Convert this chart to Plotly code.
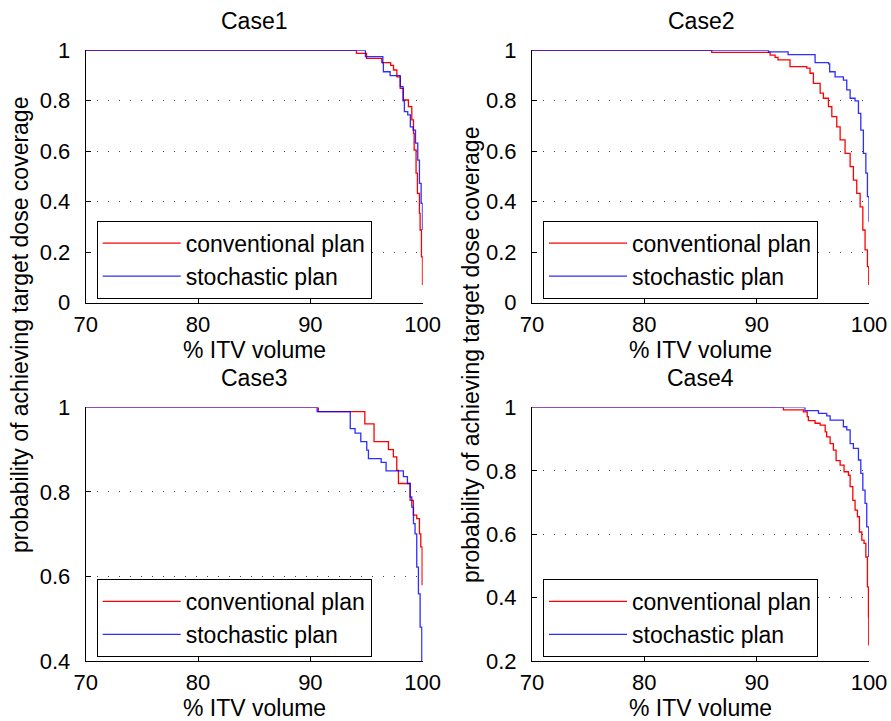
import plotly.graph_objects as go

# ---------------- data ----------------
case1_conv_x = [70, 94.1, 95.0, 96.36, 97.15, 97.4, 97.7, 98.0, 98.28, 98.73, 99.03, 99.18, 99.24, 99.41, 99.53, 99.71, 99.77, 99.89, 99.98]
case1_conv_y = [1.0, 0.988, 0.968, 0.951, 0.94, 0.922, 0.895, 0.849, 0.803, 0.777, 0.724, 0.671, 0.605, 0.513, 0.433, 0.354, 0.288, 0.182, 0.07]
case1_stoch_x = [70, 94.9, 96.45, 96.5, 97.1, 98.0, 98.25, 98.37, 98.67, 98.9, 99.15, 99.36, 99.56, 99.71, 99.86, 99.98]
case1_stoch_y = [1.0, 0.975, 0.95, 0.915, 0.9, 0.856, 0.80, 0.757, 0.744, 0.697, 0.684, 0.632, 0.565, 0.473, 0.394, 0.288]

case2_conv_x = [70, 86.0, 91.2, 91.64, 91.9, 92.97, 94.46, 94.75, 95.05, 95.65, 95.94, 96.39, 96.69, 97.13, 97.43, 97.87, 98.32, 98.61, 98.91, 99.21, 99.45, 99.65, 99.86, 99.98]
case2_conv_y = [1.0, 0.992, 0.981, 0.972, 0.962, 0.935, 0.929, 0.909, 0.869, 0.830, 0.81, 0.777, 0.737, 0.697, 0.645, 0.592, 0.539, 0.486, 0.433, 0.380, 0.288, 0.209, 0.143, 0.07]
case2_stoch_x = [70, 91.05, 92.8, 95.2, 96.4, 96.5, 96.98, 97.72, 98.02, 98.32, 98.76, 99.06, 99.27, 99.5, 99.72, 99.86, 100.0]
case2_stoch_y = [1.0, 0.994, 0.983, 0.951, 0.946, 0.915, 0.895, 0.882, 0.843, 0.81, 0.80, 0.75, 0.684, 0.592, 0.513, 0.42, 0.321]

case3_conv_x = [70, 90.71, 94.85, 95.67, 96.95, 97.39, 97.69, 97.84, 98.88, 99.17, 99.47, 99.71, 99.83, 99.95]
case3_conv_y = [1.0, 0.99, 0.961, 0.919, 0.90, 0.883, 0.851, 0.82, 0.78, 0.745, 0.737, 0.701, 0.67, 0.579]
case3_stoch_x = [70, 90.6, 93.55, 93.98, 94.49, 95.02, 95.17, 96.3, 96.74, 98.28, 98.64, 98.88, 99.03, 99.18, 99.32, 99.47, 99.62, 99.77, 99.92]
case3_stoch_y = [1.0, 0.99, 0.95, 0.939, 0.919, 0.899, 0.879, 0.87, 0.85, 0.836, 0.82, 0.788, 0.764, 0.725, 0.701, 0.622, 0.559, 0.48, 0.40]

case4_conv_x = [70, 92.38, 94.16, 94.5, 94.6, 95.2, 95.65, 96.1, 96.23, 96.54, 96.83, 97.07, 97.43, 97.78, 98.17, 98.32, 98.56, 98.76, 98.97, 99.15, 99.36, 99.56, 99.72, 99.86, 99.95, 99.98]
case4_conv_y = [1.0, 0.992, 0.986, 0.971, 0.958, 0.95, 0.944, 0.923, 0.907, 0.886, 0.865, 0.832, 0.818, 0.797, 0.786, 0.75, 0.707, 0.676, 0.655, 0.607, 0.581, 0.571, 0.528, 0.434, 0.339, 0.249]
case4_stoch_x = [70, 94.3, 95.5, 96.24, 96.54, 97.72, 98.02, 98.32, 98.61, 99.06, 99.27, 99.45, 99.65, 99.8, 99.98]
case4_stoch_y = [1.0, 0.99, 0.981, 0.973, 0.96, 0.939, 0.929, 0.886, 0.871, 0.834, 0.792, 0.739, 0.697, 0.623, 0.528]

case_titles = ["Case1", "Case2", "Case3", "Case4"]
series_names = ["conventional plan", "stochastic plan"]
x_ticks = [70, 80, 90, 100]
y_ticks = [
    [0, 0.2, 0.4, 0.6, 0.8, 1],
    [0, 0.2, 0.4, 0.6, 0.8, 1],
    [0.4, 0.6, 0.8, 1],
    [0.2, 0.4, 0.6, 0.8, 1],
]
y_ranges = [[0, 1], [0, 1], [0.4, 1], [0.2, 1]]
x_label = "% ITV volume"
y_label = "probability of achieving target dose coverage"

cases = [
    (case1_conv_x, case1_conv_y, case1_stoch_x, case1_stoch_y),
    (case2_conv_x, case2_conv_y, case2_stoch_x, case2_stoch_y),
    (case3_conv_x, case3_conv_y, case3_stoch_x, case3_stoch_y),
    (case4_conv_x, case4_conv_y, case4_stoch_x, case4_stoch_y),
]

# ---------------- layout geometry (pixels) ----------------
W, H = 891, 721
FONT = "Liberation Sans, Arial, Helvetica, sans-serif"
FS = 23
TFS = 22
col_px = [(85.7, 422.7), (532.0, 869.0)]
row_px = [(50.3, 302.7), (407.4, 661.0)]


def px_x(p):
    return p / W


def px_y(p):
    return 1 - p / H


fig = go.Figure()
layout = dict(
    template="none",
    width=W, height=H,
    margin=dict(l=0, r=0, t=0, b=0, autoexpand=False),
    paper_bgcolor="white", plot_bgcolor="white",
    font=dict(family=FONT, size=FS, color="black"),
    showlegend=True,
    annotations=[],
)

colors = ["#ff0000", "#0000ff"]
legend_names = ["legend", "legend2", "legend3", "legend4"]

for i, (cx, cy, sx, sy) in enumerate(cases):
    r, c = divmod(i, 2)
    ax_id = "" if i == 0 else str(i + 1)
    xa, ya = "x" + ax_id, "y" + ax_id
    for k, (xs, ys) in enumerate([(cx, cy), (sx, sy)]):
        fig.add_trace(go.Scatter(
            x=xs, y=ys, mode="lines", line_shape="hv",
            line=dict(color=colors[k], width=1.3),
            opacity=1.0 if k == 0 else 0.82,
            name=series_names[k], xaxis=xa, yaxis=ya,
            legend=legend_names[i], showlegend=True,
        ))
    x0, x1 = col_px[c]
    y0, y1 = row_px[r]
    layout["xaxis" + ax_id] = dict(
        domain=[px_x(x0), px_x(x1)], anchor=ya, range=[70, 100],
        tickvals=x_ticks, ticks="inside", ticklen=5, tickcolor="black",
        showline=True, linecolor="black", linewidth=1, mirror=False,
        showgrid=False, zeroline=False, ticklabelstandoff=2, automargin=False,
        tickfont=dict(size=TFS, family=FONT, color="black"),
    )
    layout["yaxis" + ax_id] = dict(
        domain=[px_y(y1), px_y(y0)], anchor=xa, range=y_ranges[i],
        tickvals=y_ticks[i], ticktext=[("%g" % v) for v in y_ticks[i]],
        ticks="inside", ticklen=5, tickcolor="black",
        showline=True, linecolor="black", linewidth=1, mirror=False,
        showgrid=True, gridcolor="#444444", gridwidth=1, griddash="1px,10px",
        zeroline=False, ticklabelstandoff=10, automargin=False,
        tickfont=dict(size=TFS, family=FONT, color="black"),
    )
    layout[legend_names[i]] = dict(
        x=px_x(x0 + 11), y=px_y(y1 - 82), xanchor="left", yanchor="top",
        bgcolor="white", bordercolor="black", borderwidth=1,
        font=dict(size=FS, family=FONT, color="black"),
        itemwidth=78, tracegroupgap=0,
    )
    # subplot title
    layout["annotations"].append(dict(
        text=case_titles[i], x=px_x((x0 + x1) / 2), y=px_y(y0 - 29),
        xref="paper", yref="paper", showarrow=False,
        xanchor="center", yanchor="middle", font=dict(size=FS, family=FONT),
    ))
    # x axis title
    layout["annotations"].append(dict(
        text=x_label, x=px_x((x0 + x1) / 2), y=px_y(y1 + 47),
        xref="paper", yref="paper", showarrow=False,
        xanchor="center", yanchor="middle", font=dict(size=FS, family=FONT),
    ))

# y labels
layout["annotations"].append(dict(
    text=y_label, x=px_x(20), y=px_y(325), xref="paper", yref="paper",
    showarrow=False, textangle=-90, xanchor="center", yanchor="middle",
    font=dict(size=FS, family=FONT),
))
layout["annotations"].append(dict(
    text=y_label, x=px_x(471), y=px_y(355), xref="paper", yref="paper",
    showarrow=False, textangle=-90, xanchor="center", yanchor="middle",
    font=dict(size=FS, family=FONT),
))

fig.update_layout(**layout)
fig.write_html("out.html")
